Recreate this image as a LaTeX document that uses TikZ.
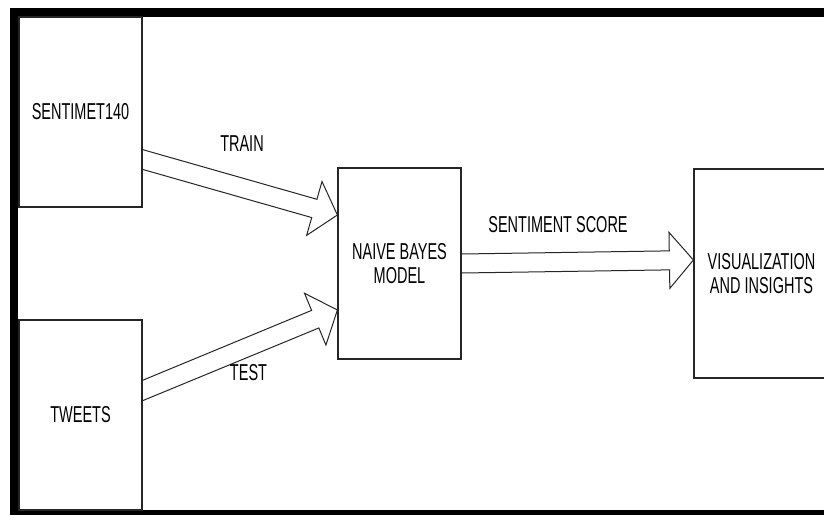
\documentclass[tikz,border=0pt]{standalone}
\usepackage{fontspec}
\newfontfamily\dfont[FakeStretch=0.63]{Liberation Sans}
\usetikzlibrary{calc}
\tikzset{
  box/.style={draw=black!85, line width=1.2pt, fill=white, inner sep=0pt,
    align=center, font=\dfont\fontsize{23}{24}\selectfont, text=black},
  lbl/.style={inner sep=0pt, font=\dfont\fontsize{23}{24}\selectfont, text=black},
  barrow/.style={draw=black!85, line width=1pt, line join=miter}
}
% #1 start (on a box edge), #2 tip, #3 vertical half-width of the shaft at the start
\newcommand{\blockarrow}[3]{%
  \path ($(#2)!24pt!(#1)$) coordinate (hb);
  \draw[barrow] ($(#1)+(0,-#3)$) -- ($(hb)!9.5pt!90:(#2)$)
    -- ($(hb)!28pt!90:(#2)$) -- (#2) -- ($(hb)!28pt!-90:(#2)$)
    -- ($(hb)!9.5pt!-90:(#2)$) -- ($(#1)+(0,#3)$);
}
\begin{document}
\begin{tikzpicture}[x=1pt,y=-1pt]
\useasboundingbox (0,0) rectangle (824,515);
\clip (0,0) rectangle (824,515);
\fill[white] (0,0) rectangle (824,515);
% frame
\fill[black] (10,8) rectangle (824,17);
\fill[black] (10,8) rectangle (18,515);
\fill[black] (10,510) rectangle (824,515);
% boxes
\node[box, minimum width=123pt, minimum height=190pt] (s140) at (80.5,112) {SENTIMET140};
\node[box, minimum width=123pt, minimum height=190pt] (tweets) at (80.5,415) {TWEETS};
\node[box, minimum width=123pt, minimum height=191pt] (nb) at (399.5,263.5) {NAIVE BAYES\\MODEL};
\node[box, minimum width=135pt, minimum height=209pt] (vis) at (761.5,273.5) {VISUALIZATION\\AND INSIGHTS};
% arrow end points
\coordinate (a1) at ($(s140.east)+(0,47.5)$);
\coordinate (b1) at ($(nb.west)+(0,-48.5)$);
\coordinate (a2) at ($(tweets.east)+(0,-24.5)$);
\coordinate (b2) at ($(nb.west)+(0,46.5)$);
\coordinate (a3) at (nb.east);
\coordinate (b3) at ($(vis.west)+(0,-13.5)$);
\blockarrow{a1}{b1}{9.9}
\blockarrow{a2}{b2}{10.2}
\blockarrow{a3}{b3}{9.5}
% labels
\node[lbl] (ltrain) at (242,143.5) {TRAIN};
\node[lbl] (ltest) at (248.5,372.5) {TEST};
\node[lbl] (lscore) at (558,224.5) {SENTIMENT SCORE};
\end{tikzpicture}
\end{document}
